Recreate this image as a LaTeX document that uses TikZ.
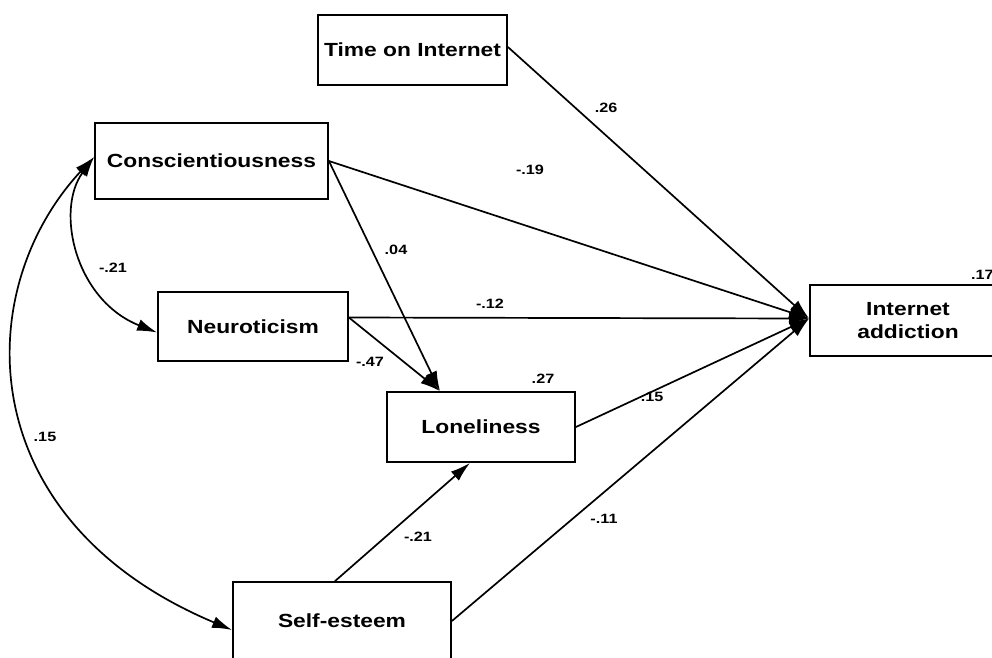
\documentclass[tikz,border=0pt]{standalone}
\usepackage{fontspec}
\newfontfamily\dfont{Liberation Sans}[FakeStretch=1.2]
\usetikzlibrary{arrows.meta}
\begin{document}
\begin{tikzpicture}[x=1pt,y=-1pt,
  box/.style={draw, line width=1.8pt, inner sep=0pt, align=center,
    font=\dfont\bfseries\fontsize{19}{23}\selectfont},
  lab/.style={inner sep=0pt, font=\dfont\bfseries\fontsize{13.5}{16}\selectfont},
  arr/.style={line width=1.7pt, -{Latex[length=20pt,width=12pt]}},
  cov/.style={line width=1.7pt, {Latex[length=20pt,width=12pt]}-{Latex[length=20pt,width=12pt]}}]
\clip (0,0) rectangle (992,657);
\fill[white] (0,0) rectangle (992,657);
% boxes
\node[box, minimum width=189pt, minimum height=70pt] (time) at (412.5,50) {Time on Internet};
\node[box, minimum width=233pt, minimum height=76pt] (cons) at (211.5,161) {Conscientiousness};
\node[box, minimum width=190pt, minimum height=69pt] (neuro) at (253,326.5) {Neuroticism};
\node[box, minimum width=188pt, minimum height=70pt] (lone) at (481,427) {Loneliness};
\node[box, minimum width=218pt, minimum height=78pt] (self) at (342,621) {Self-esteem};
\node[box, minimum width=196pt, minimum height=71pt] (ia) at (908,320.5) {Internet\\addiction};
% paths
\draw[arr] ([yshift=3pt]time.east) -- ([yshift=2pt]ia.west);
\draw[arr] (cons.east) -- ([yshift=2pt]ia.west);
\draw[arr] (cons.east) -- ([xshift=-41pt]lone.north);
\draw[arr] ([yshift=9pt]neuro.east) -- ([yshift=2pt]ia.west);
\draw[arr] ([yshift=9pt]neuro.east) -- ([xshift=-41pt]lone.north);
\draw[arr] (lone.east) -- ([yshift=2pt]ia.west);
\draw[arr] ([xshift=-7pt]self.north) -- ([xshift=-11pt]lone.south);
\draw[arr] (self.east) -- ([yshift=2pt]ia.west);
% covariances
\draw[cov] ([yshift=4pt]cons.west) .. controls (55,210) and (75,300) .. ([yshift=-6pt]neuro.west);
\draw[cov] ([yshift=4pt]cons.west) .. controls (-30,290) and (-30,520) .. ([yshift=-9pt]self.west);
% labels
\node[lab] (l1) at (606,108) {.26};
\node[lab] (l2) at (530,170) {-.19};
\node[lab] (l3) at (396,250) {.04};
\node[lab] (l4) at (113,268) {-.21};
\node[lab] (l5) at (490,304) {-.12};
\node[lab] (l6) at (370,362) {-.47};
\node[lab] (l7) at (543,379) {.27};
\node[lab] (l8) at (652,397) {.15};
\node[lab] (l9) at (45,437) {.15};
\node[lab] (l10) at (418,537) {-.21};
\node[lab] (l11) at (604,519) {-.11};
\node[lab, anchor=west] (l12) at (971,275) {.17};
\end{tikzpicture}
\end{document}
